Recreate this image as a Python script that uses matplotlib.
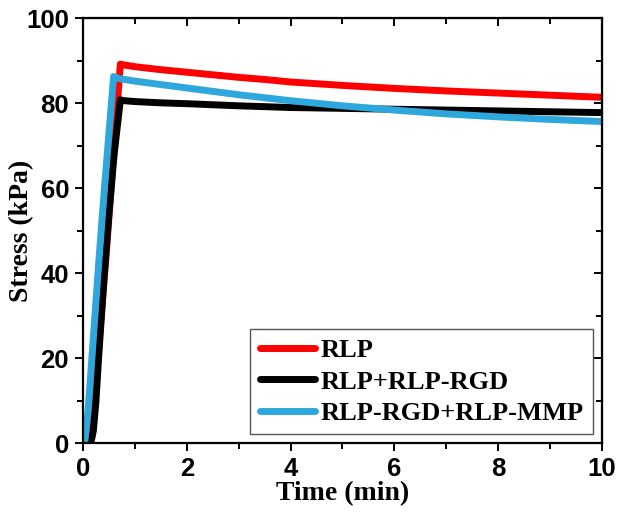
import matplotlib

matplotlib.use("Agg")
import matplotlib.pyplot as plt
from matplotlib.ticker import MultipleLocator

# values
t_rlp = [0.1, 0.25, 0.45, 0.65, 0.72, 0.8, 1.0, 1.5, 2.0, 2.5, 3.0, 3.5, 4.0, 5.0, 6.0, 7.0, 8.0, 9.0, 10.0]
s_rlp = [0, 15, 45, 78, 89.2, 89.0, 88.6, 87.9, 87.3, 86.7, 86.1, 85.6, 85.0, 84.2, 83.5, 82.9, 82.4, 81.9, 81.4]

t_rgd = [0.15, 0.2, 0.25, 0.3, 0.4, 0.5, 0.6, 0.72, 0.8, 1.0, 1.5, 2.0, 3.0, 4.0, 5.0, 6.0, 7.0, 8.0, 9.0, 10.0]
s_rgd = [0, 3, 10, 20, 38, 54, 68, 80.8, 80.6, 80.4, 80.1, 79.9, 79.4, 79.0, 78.8, 78.6, 78.4, 78.2, 78.0, 77.8]

t_mmp = [0.03, 0.1, 0.2, 0.3, 0.4, 0.5, 0.59, 0.7, 1.0, 1.5, 2.0, 3.0, 4.0, 5.0, 6.0, 7.0, 8.0, 9.0, 10.0]
s_mmp = [0, 8, 25, 42, 58, 73, 86.3, 85.8, 85.2, 84.4, 83.6, 82.0, 80.6, 79.4, 78.4, 77.5, 76.8, 76.2, 75.7]

series = [
    (t_rlp, s_rlp, "#ff0000", "RLP"),
    (t_rgd, s_rgd, "#000000", "RLP+RLP-RGD"),
    (t_mmp, s_mmp, "#2ea8dc", "RLP-RGD+RLP-MMP"),
]

fig = plt.figure(figsize=(6.25, 5.21), dpi=100)
ax = fig.add_axes([0.1328, 0.149, 0.8302, 0.816])

for t, s, color, label in series:
    ax.plot(t, s, color=color, linewidth=5, solid_capstyle="round",
            solid_joinstyle="round", label=label)

ax.set_xlim(0, 10)
ax.set_ylim(0, 100)
ax.xaxis.set_major_locator(MultipleLocator(2))
ax.xaxis.set_minor_locator(MultipleLocator(1))
ax.yaxis.set_major_locator(MultipleLocator(20))
ax.yaxis.set_minor_locator(MultipleLocator(10))

for sp in ax.spines.values():
    sp.set_linewidth(1.6)

ax.tick_params(which="both", direction="out", width=1.4, top=False, right=False)
ax.tick_params(which="major", length=6, pad=4)
ax.tick_params(which="minor", length=4)

# inward mirror ticks on top and right
ax_top = ax.secondary_xaxis("top")
ax_top.xaxis.set_major_locator(MultipleLocator(2))
ax_top.xaxis.set_minor_locator(MultipleLocator(1))
ax_top.tick_params(which="both", direction="in", width=1.4, labeltop=False)
ax_top.tick_params(which="major", length=6)
ax_top.tick_params(which="minor", length=4)
ax_right = ax.secondary_yaxis("right")
ax_right.yaxis.set_major_locator(MultipleLocator(20))
ax_right.yaxis.set_minor_locator(MultipleLocator(10))
ax_right.tick_params(which="both", direction="in", width=1.4, labelright=False)
ax_right.tick_params(which="major", length=6)
ax_right.tick_params(which="minor", length=4)

for lab in ax.get_xticklabels() + ax.get_yticklabels():
    lab.set_fontfamily("Liberation Sans")
    lab.set_fontweight("bold")
    lab.set_fontsize(18.5)

ax.set_xlabel("Time (min)", fontfamily="Liberation Serif", fontweight="bold",
              fontsize=20, labelpad=0)
ax.set_ylabel("Stress (kPa)", fontfamily="Liberation Serif", fontweight="bold",
              fontsize=20, va="center")
ax.yaxis.set_label_coords(-0.118, 0.5)

leg = ax.legend(loc="lower right", prop={"family": "Liberation Serif", "weight": "bold", "size": 19},
                handlelength=2.1, handletextpad=0.2, labelspacing=0.3,
                borderpad=0.35, borderaxespad=0.35, fancybox=False, framealpha=1)
leg.get_frame().set_edgecolor("#555555")
leg.get_frame().set_linewidth(1.0)

fig.savefig("out.png", dpi=100)
